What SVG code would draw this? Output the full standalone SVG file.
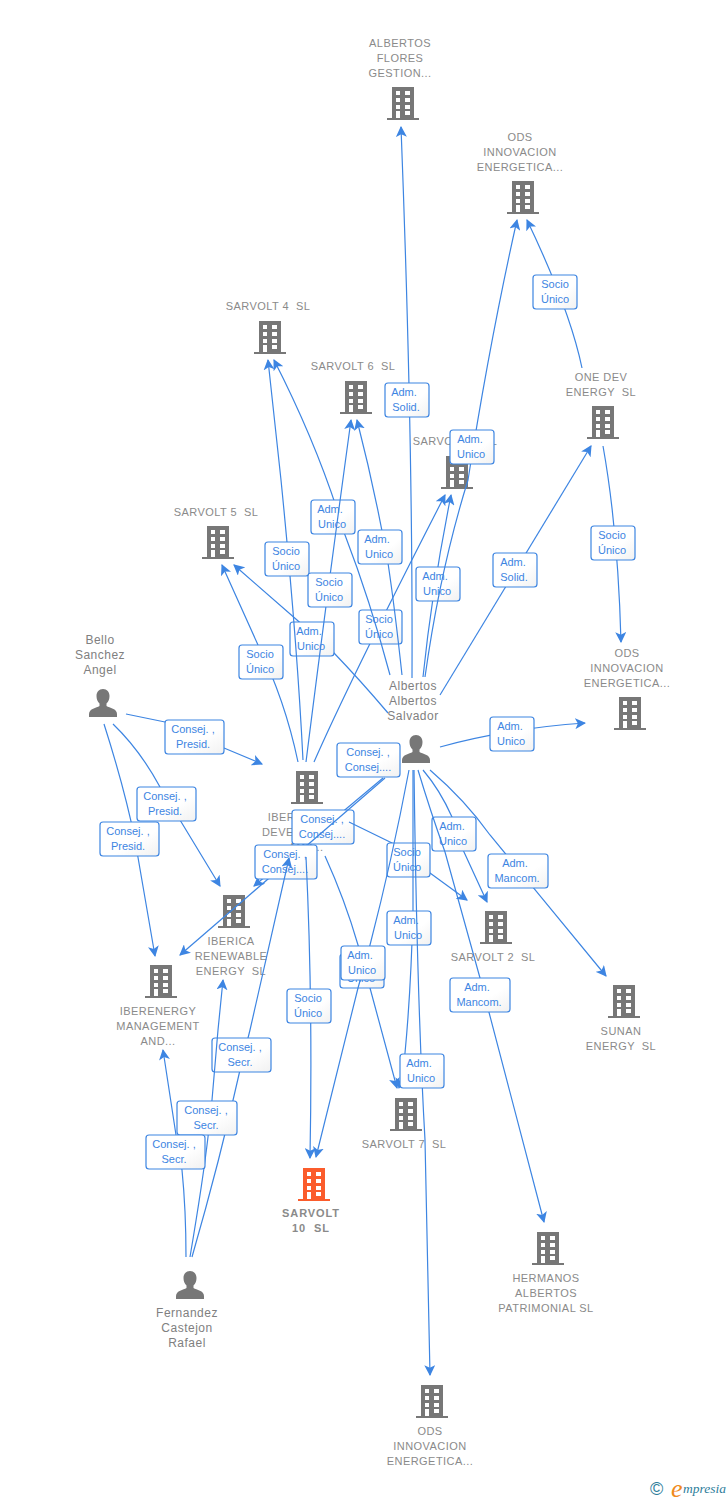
<svg xmlns="http://www.w3.org/2000/svg" width="728" height="1500" viewBox="0 0 728 1500">
<style>
text{font-family:"Liberation Sans",Arial,sans-serif}
.n{font-size:11px;fill:#8a8a8a;text-anchor:middle;letter-spacing:.45px;white-space:pre}
.p{font-size:12px;fill:#808080;text-anchor:middle;letter-spacing:.5px;white-space:pre}
.b{font-weight:bold;letter-spacing:.9px}
.e{fill:none;stroke:#3d85e2;stroke-width:1.2;marker-end:url(#a)}
.l{fill:url(#g);stroke:#3d85e2;stroke-width:1.2}
.t{font-size:11px;fill:#3d85e2;text-anchor:middle}
</style>
<defs>
<linearGradient id="g" x1="0" y1="0" x2="1" y2="1"><stop offset="0" stop-color="#fff"/><stop offset=".6" stop-color="#fff"/><stop offset="1" stop-color="#f1f1f1"/></linearGradient>
<marker id="a" markerUnits="userSpaceOnUse" viewBox="0 0 10 10" refX="9" refY="5" markerWidth="11" markerHeight="11" orient="auto"><path d="M0 0L10 5 0 10 2.500 5z" fill="#3d85e2"/></marker>
<symbol id="bd" viewBox="0 0 32 34" width="32" height="34" overflow="visible"><path fill="#777" d="M5 0H27V31H32V33H0V31H5z"/><path fill="#fff" d="M9 4h4v4H9zM18 4h5v4H18zM9 11h4v4H9zM18 11h5v4H18zM9 18h4v4H9zM18 18h5v4H18zM9 24h4v7H9zM18 24h5v4H18z"/></symbol>
<symbol id="bo" viewBox="0 0 32 34" width="32" height="34" overflow="visible"><path fill="#fb5c2c" d="M5 0H27V31H32V33H0V31H5z"/><path fill="#fff" d="M9 4h4v4H9zM18 4h5v4H18zM9 11h4v4H9zM18 11h5v4H18zM9 18h4v4H9zM18 18h5v4H18zM9 24h4v7H9zM18 24h5v4H18z"/></symbol>
<symbol id="pr" viewBox="0 0 28 28" width="28" height="28" overflow="visible"><path fill="#777" d="M14 0c4 0 6.500 3 6.500 7 0 3-1 5.500-3 7.500v2.500c3 2 10.500 2.500 10.500 8v3H0v-3c0-5.500 7.500-6 10.500-8v-2.500c-2-2-3-4.500-3-7.500 0-4 2.500-7 6.500-7z"/></symbol>
</defs>

<g id="node-albertos-flores"><use href="#bd" x="387" y="87"/><text class="n" x="400" y="47">ALBERTOS</text><text class="n" x="400" y="62">FLORES</text><text class="n" x="400" y="77">GESTION...</text></g>
<g id="node-ods-1"><use href="#bd" x="507" y="181"/><text class="n" x="520" y="141">ODS</text><text class="n" x="520" y="156">INNOVACION</text><text class="n" x="520" y="171">ENERGETICA...</text></g>
<g id="node-sarvolt-4"><use href="#bd" x="254" y="321"/><text class="n" x="268" y="310">SARVOLT 4  SL</text></g>
<g id="node-sarvolt-6"><use href="#bd" x="340" y="381"/><text class="n" x="353" y="370">SARVOLT 6  SL</text></g>
<g id="node-sarvolt-3"><use href="#bd" x="441" y="456"/><text class="n" x="455" y="445">SARVOLT 3  SL</text></g>
<g id="node-one-dev"><use href="#bd" x="587" y="406"/><text class="n" x="601" y="381">ONE DEV</text><text class="n" x="601" y="396">ENERGY  SL</text></g>
<g id="node-sarvolt-5"><use href="#bd" x="202" y="526"/><text class="n" x="216" y="516">SARVOLT 5  SL</text></g>
<g id="node-ods-2"><use href="#bd" x="614" y="697"/><text class="n" x="627" y="657">ODS</text><text class="n" x="627" y="672">INNOVACION</text><text class="n" x="627" y="687">ENERGETICA...</text></g>
<g id="node-iber"><use href="#bd" x="291" y="771"/><text class="n" x="306" y="821">IBERENERGY</text><text class="n" x="306" y="836">DEVELOPMENT</text><text class="n" x="306" y="851">AND...</text></g>
<g id="node-iberica"><use href="#bd" x="218" y="895"/><text class="n" x="231" y="945">IBERICA</text><text class="n" x="231" y="960">RENEWABLE</text><text class="n" x="231" y="975">ENERGY  SL</text></g>
<g id="node-iberenergy"><use href="#bd" x="145" y="965"/><text class="n" x="158" y="1015">IBERENERGY</text><text class="n" x="158" y="1030">MANAGEMENT</text><text class="n" x="158" y="1045">AND...</text></g>
<g id="node-sarvolt-2"><use href="#bd" x="480" y="911"/><text class="n" x="493" y="961">SARVOLT 2  SL</text></g>
<g id="node-sunan"><use href="#bd" x="608" y="985"/><text class="n" x="621" y="1035">SUNAN</text><text class="n" x="621" y="1050">ENERGY  SL</text></g>
<g id="node-sarvolt-7"><use href="#bd" x="390" y="1098"/><text class="n" x="404" y="1148">SARVOLT 7  SL</text></g>
<g id="node-sarvolt-10"><use href="#bo" x="298" y="1168"/><text class="n b" x="311" y="1217">SARVOLT</text><text class="n b" x="311" y="1232">10  SL</text></g>
<g id="node-hermanos"><use href="#bd" x="532" y="1232"/><text class="n" x="546" y="1282">HERMANOS</text><text class="n" x="546" y="1297">ALBERTOS</text><text class="n" x="546" y="1312">PATRIMONIAL SL</text></g>
<g id="node-ods-3"><use href="#bd" x="416" y="1385"/><text class="n" x="430" y="1435">ODS</text><text class="n" x="430" y="1450">INNOVACION</text><text class="n" x="430" y="1465">ENERGETICA...</text></g>
<g id="node-bello"><use href="#pr" x="89" y="689"/><text class="p" x="100" y="644">Bello</text><text class="p" x="100" y="659">Sanchez</text><text class="p" x="100" y="674">Angel</text></g>
<g id="node-albertos"><use href="#pr" x="402" y="735"/><text class="p" x="413" y="690">Albertos</text><text class="p" x="413" y="705">Albertos</text><text class="p" x="413" y="720">Salvador</text></g>
<g id="node-fernandez"><use href="#pr" x="176" y="1271"/><text class="p" x="187" y="1317">Fernandez</text><text class="p" x="187" y="1332">Castejon</text><text class="p" x="187" y="1347">Rafael</text></g>

<g id="connectors">
<path class="e" d="M314 762Q350 680 445 495"/>
<rect class="l" x="359" y="610" width="43" height="34" rx="3"/><text class="t" x="379" y="623">Socio</text><text class="t" x="379" y="638">Único</text>

<path class="e" d="M388 713Q360 680 334 653L297 620L234 565"/>
<rect class="l" x="290" y="622" width="44" height="34" rx="3"/><text class="t" x="309" y="635">Adm.</text><text class="t" x="311" y="650">Unico</text>

<path class="e" d="M423 677Q432 590 451 495"/>
<rect class="l" x="416" y="567" width="44" height="34" rx="3"/><text class="t" x="435" y="580">Adm.</text><text class="t" x="437" y="595">Unico</text>

<path class="e" d="M298 762Q285 700 258 645L222 565"/>
<rect class="l" x="239" y="645" width="44" height="34" rx="3"/><text class="t" x="260" y="658">Socio</text><text class="t" x="260" y="673">Único</text>

<path class="e" d="M303 760Q297 640 281 480L268 360"/>
<rect class="l" x="265" y="542" width="44" height="34" rx="3"/><text class="t" x="286" y="555">Socio</text><text class="t" x="286" y="570">Único</text>

<path class="e" d="M390 675Q370 600 345 535Q320 450 274 360"/>
<rect class="l" x="311" y="500" width="44" height="34" rx="3"/><text class="t" x="330" y="513">Adm.</text><text class="t" x="332" y="528">Unico</text>

<path class="e" d="M402 675Q395 610 388 563Q375 490 357 420"/>
<rect class="l" x="358" y="530" width="44" height="34" rx="3"/><text class="t" x="377" y="543">Adm.</text><text class="t" x="379" y="558">Unico</text>

<path class="e" d="M306 762Q325 610 351 420"/>
<rect class="l" x="308" y="573" width="44" height="34" rx="3"/><text class="t" x="329" y="586">Socio</text><text class="t" x="329" y="601">Único</text>

<path class="e" d="M425 677Q440 570 468 480Q490 340 517 220"/>
<rect class="l" x="450" y="430" width="44" height="34" rx="3"/><text class="t" x="470" y="443">Adm.</text><text class="t" x="471" y="458">Unico</text>

<path class="e" d="M412 678Q413 440 401 127"/>
<rect class="l" x="385" y="383" width="44" height="34" rx="3"/><text class="t" x="404" y="396">Adm.</text><text class="t" x="406" y="411">Solid.</text>

<path class="e" d="M582 368Q570 310 527 220"/>
<rect class="l" x="533" y="275" width="44" height="34" rx="3"/><text class="t" x="555" y="288">Socio</text><text class="t" x="555" y="303">Único</text>

<path class="e" d="M603 446Q618 530 621 642"/>
<rect class="l" x="591" y="526" width="44" height="34" rx="3"/><text class="t" x="612" y="539">Socio</text><text class="t" x="612" y="554">Único</text>

<path class="e" d="M440 695L591 446"/>
<rect class="l" x="493" y="553" width="44" height="34" rx="3"/><text class="t" x="513" y="566">Adm.</text><text class="t" x="514" y="581">Solid.</text>

<path class="e" d="M440 747Q510 728 585 723"/>
<rect class="l" x="490" y="717" width="44" height="34" rx="3"/><text class="t" x="510" y="730">Adm.</text><text class="t" x="511" y="745">Unico</text>

<path class="e" d="M126 714L165 722M224 748L262 764"/>
<rect class="l" x="165" y="720" width="59" height="34" rx="3"/><text class="t" x="193" y="733">Consej. ,</text><text class="t" x="193" y="748">Presid.</text>

<path class="e" d="M113 724Q140 750 160 787L220 886"/>
<rect class="l" x="137" y="787" width="59" height="34" rx="3"/><text class="t" x="165" y="800">Consej. ,</text><text class="t" x="165" y="815">Presid.</text>

<path class="e" d="M104 724Q125 790 135 840L155 956"/>
<rect class="l" x="100" y="822" width="59" height="34" rx="3"/><text class="t" x="128" y="835">Consej. ,</text><text class="t" x="128" y="850">Presid.</text>

<rect class="l" x="337" y="743" width="63" height="34" rx="3"/><text class="t" x="368" y="756">Consej. ,</text><text class="t" x="368" y="771">Consej....</text>

<path class="e" d="M383 778L254 886"/>
<rect class="l" x="292" y="810" width="62" height="34" rx="3"/><text class="t" x="322" y="823">Consej. ,</text><text class="t" x="322" y="838">Consej....</text>

<path class="e" d="M385 778L180 955"/>
<rect class="l" x="255" y="845" width="62" height="34" rx="3"/><text class="t" x="285" y="858">Consej. ,</text><text class="t" x="285" y="873">Consej....</text>

<path class="e" d="M349 822L392 843L430 873L467 900"/>
<rect class="l" x="387" y="843" width="43" height="34" rx="3"/><text class="t" x="407" y="856">Socio</text><text class="t" x="407" y="871">Único</text>

<path class="e" d="M423 770Q440 790 452 817L464 852L487 902"/>
<rect class="l" x="432" y="817" width="44" height="34" rx="3"/><text class="t" x="452" y="830">Adm.</text><text class="t" x="453" y="845">Unico</text>

<path class="e" d="M430 770Q465 800 490 835L606 976"/>
<rect class="l" x="488" y="854" width="60" height="34" rx="3"/><text class="t" x="515" y="867">Adm.</text><text class="t" x="517" y="882">Mancom.</text>

<path class="e" d="M413 770L413 910Q411 990 405 1053L399 1088"/>
<rect class="l" x="387" y="911" width="44" height="34" rx="3"/><text class="t" x="406" y="924">Adm.</text><text class="t" x="408" y="939">Unico</text>

<path class="e" d="M325 856Q345 900 358 945L370 988L397 1088"/>
<rect class="l" x="340" y="954" width="44" height="34" rx="3"/><text class="t" x="360" y="967">Adm.</text><text class="t" x="361" y="982">Unico</text>

<path class="e" d="M409 770Q392 860 370 945L358 988L316 1157"/>
<rect class="l" x="341" y="946" width="44" height="34" rx="3"/><text class="t" x="360" y="959">Adm.</text><text class="t" x="362" y="974">Unico</text>

<path class="e" d="M306 857Q313 1000 310 1158"/>
<rect class="l" x="287" y="989" width="44" height="34" rx="3"/><text class="t" x="308" y="1002">Socio</text><text class="t" x="308" y="1017">Único</text>

<path class="e" d="M418 770Q430 810 445 852L480 978L544 1222"/>
<rect class="l" x="450" y="978" width="60" height="34" rx="3"/><text class="t" x="477" y="991">Adm.</text><text class="t" x="479" y="1006">Mancom.</text>

<path class="e" d="M414 770Q417 1000 425 1140L430 1375"/>
<rect class="l" x="400" y="1054" width="44" height="34" rx="3"/><text class="t" x="419" y="1067">Adm.</text><text class="t" x="421" y="1082">Unico</text>

<path class="e" d="M192 1257Q220 1160 240 1070L250 1030L289 858"/>
<rect class="l" x="212" y="1038" width="59" height="34" rx="3"/><text class="t" x="240" y="1051">Consej. ,</text><text class="t" x="240" y="1066">Secr.</text>

<path class="e" d="M190 1257Q203 1180 208 1137L212 1100L218 1030L223 980"/>
<rect class="l" x="177" y="1101" width="60" height="34" rx="3"/><text class="t" x="206" y="1114">Consej. ,</text><text class="t" x="206" y="1129">Secr.</text>

<path class="e" d="M186 1257Q186 1210 182 1170L176 1135L163 1050"/>
<rect class="l" x="146" y="1135" width="59" height="34" rx="3"/><text class="t" x="174" y="1148">Consej. ,</text><text class="t" x="174" y="1163">Secr.</text>
</g>

<g id="logo"><text x="650" y="1495" font-size="18" fill="#2e7d9a">©</text><text x="671" y="1497" font-size="26" fill="#f08a1c" font-style="italic" style='font-family:"Liberation Serif",serif'>e</text><text x="683" y="1493" font-size="13.500" fill="#2e7d9a" font-style="italic" style='font-family:"Liberation Serif",serif'>mpresia</text></g>
</svg>
